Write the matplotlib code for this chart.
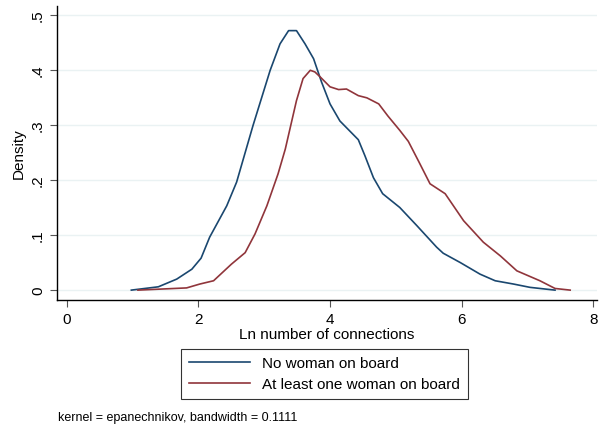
import matplotlib.pyplot as plt

plt.rcParams['font.family'] = ['Liberation Sans', 'DejaVu Sans']

# kernel density, no woman on board
none_x = [0.98, 1.39, 1.67, 1.90, 2.04, 2.17, 2.43, 2.58, 2.83, 3.09, 3.24, 3.37, 3.49,
          3.62, 3.75, 3.87, 4.00, 4.15, 4.43, 4.53, 4.66, 4.80, 5.06, 5.32, 5.62, 5.72,
          5.98, 6.28, 6.51, 6.79, 7.04, 7.42]
none_y = [0.0, 0.006, 0.02, 0.038, 0.058, 0.096, 0.153, 0.196, 0.299, 0.399, 0.447, 0.471, 0.471,
          0.447, 0.42, 0.378, 0.338, 0.307, 0.273, 0.244, 0.204, 0.175, 0.150, 0.117, 0.078, 0.067,
          0.050, 0.029, 0.017, 0.011, 0.005, 0.0]

# at least one woman on board
woman_x = [1.08, 1.82, 2.02, 2.23, 2.50, 2.71, 2.86, 3.04, 3.21, 3.32, 3.49, 3.59, 3.70,
           3.77, 3.85, 4.00, 4.13, 4.25, 4.43, 4.56, 4.74, 4.88, 5.06, 5.19, 5.35, 5.52, 5.75,
           6.03, 6.33, 6.59, 6.84, 7.19, 7.42, 7.65]
woman_y = [0.0, 0.004, 0.011, 0.017, 0.047, 0.068, 0.102, 0.153, 0.211, 0.256, 0.344, 0.384, 0.399,
           0.396, 0.387, 0.369, 0.364, 0.365, 0.353, 0.349, 0.338, 0.316, 0.290, 0.270, 0.233, 0.193, 0.175,
           0.126, 0.087, 0.062, 0.035, 0.017, 0.003, 0.0]

xticks = [0, 2, 4, 6, 8]
yticks = [0, 0.1, 0.2, 0.3, 0.4, 0.5]
ytick_labels = ['0', '.1', '.2', '.3', '.4', '.5']

fig = plt.figure(figsize=(6.05, 4.27), dpi=100)
ax = fig.add_axes([0.094, 0.295, 0.893, 0.689])

ax.plot(none_x, none_y, color='#1a476f', lw=1.2, label='No woman on board')
ax.plot(woman_x, woman_y, color='#90353b', lw=1.2, label='At least one woman on board')

ax.set_xlim(-0.152, 8.06)
ax.set_ylim(-0.018, 0.516)
ax.set_xticks(xticks)
ax.set_yticks(yticks)
ax.set_yticklabels(ytick_labels, rotation=90, va='center')
ax.tick_params(labelsize=11, direction='out', length=5, width=0.8, color='#555555')
ax.grid(axis='y', color='#eaf2f3', lw=1)
ax.set_axisbelow(True)
for s in ['top', 'right']:
    ax.spines[s].set_visible(False)
for s in ['left', 'bottom']:
    ax.spines[s].set_linewidth(1)

ax.set_xlabel('Ln number of connections', fontsize=11, labelpad=1)
ax.set_ylabel('Density', fontsize=11, labelpad=4)

leg = fig.legend(loc='center', bbox_to_anchor=(0.536, 0.122), frameon=True, fancybox=False,
                 edgecolor='black', fontsize=11, handlelength=4, borderpad=0.5,
                 labelspacing=0.45)
leg.get_frame().set_linewidth(0.8)

fig.text(0.096, 0.015, 'kernel = epanechnikov, bandwidth = 0.1111', fontsize=9)

plt.savefig('out.png')
